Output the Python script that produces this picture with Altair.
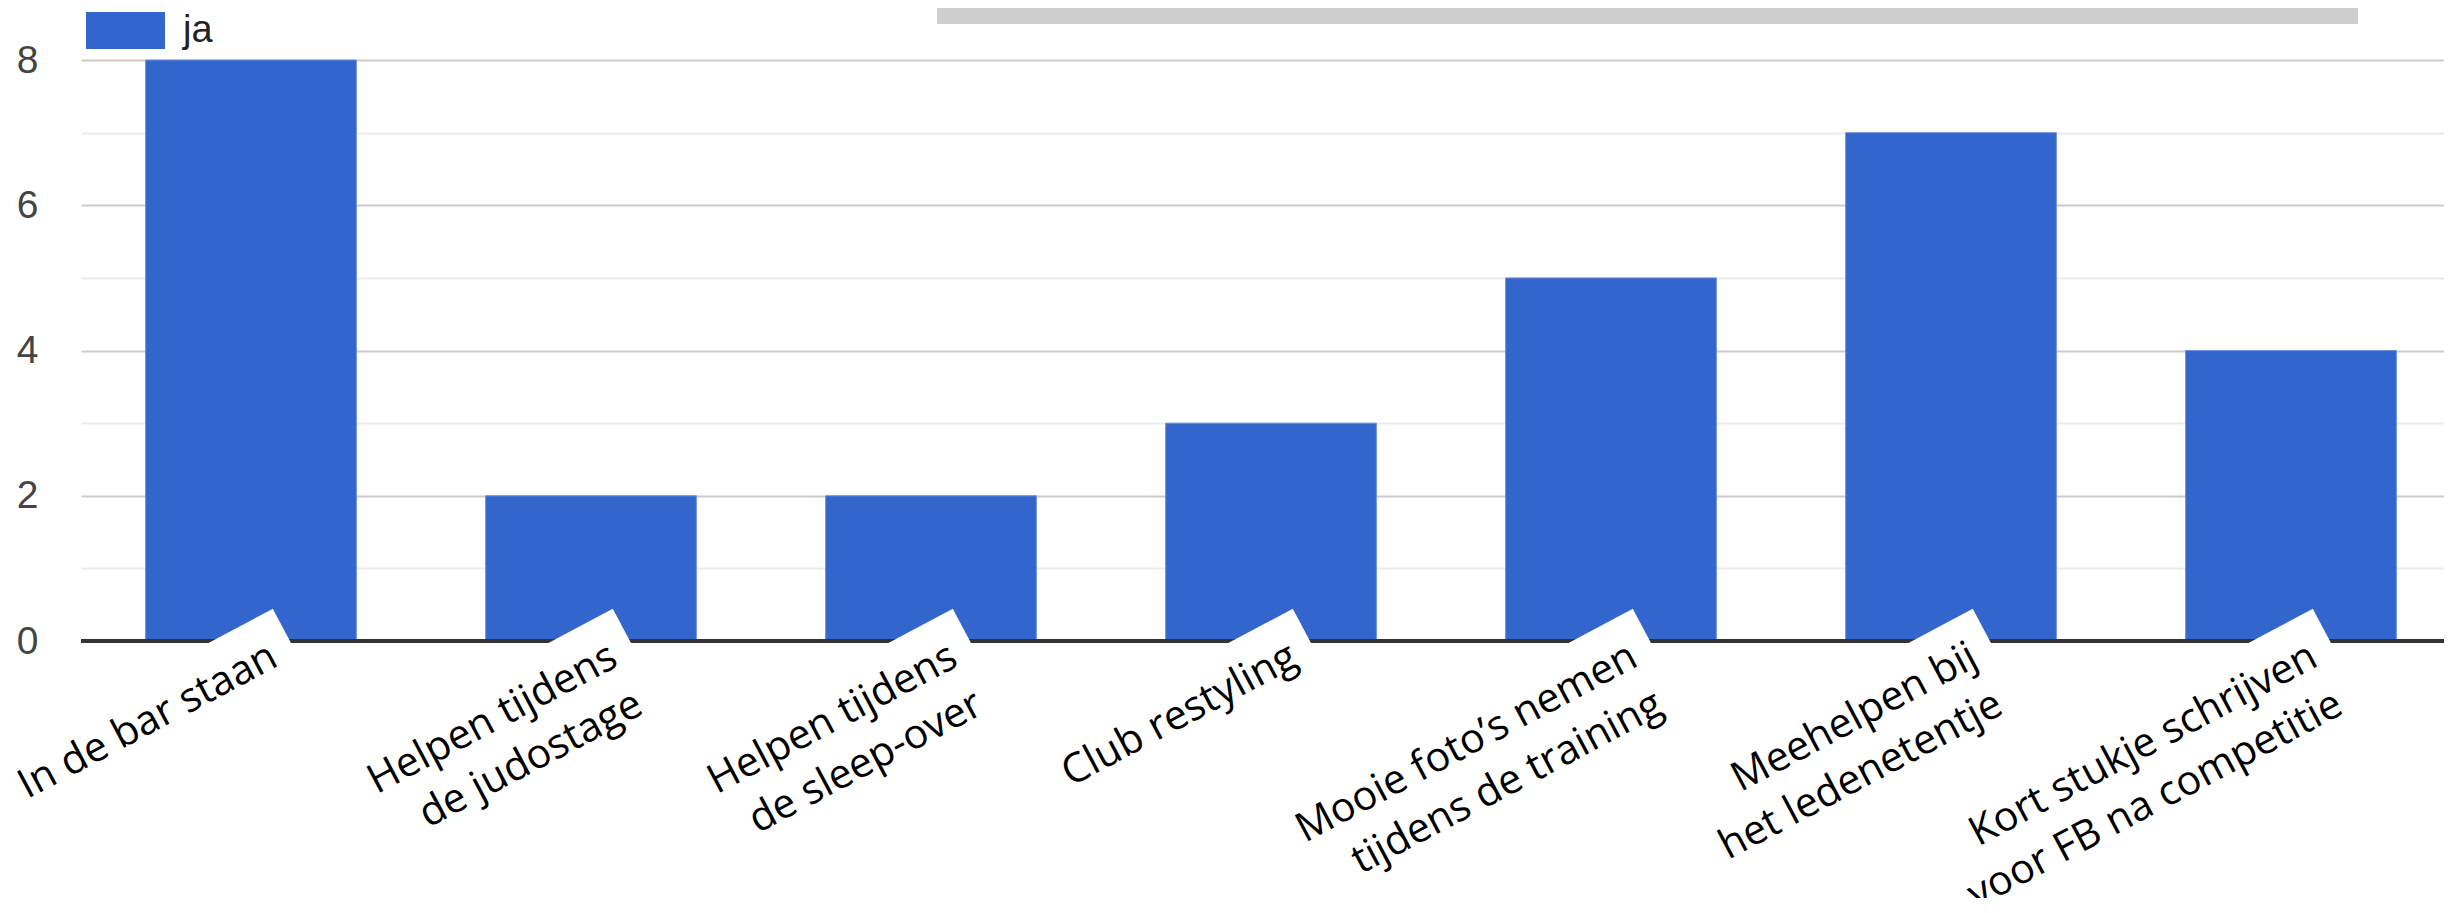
import altair as alt
import pandas as pd

categories = [
    "In de bar staan",
    "Helpen tijdens\nde judostage",
    "Helpen tijdens\nde sleep-over",
    "Club restyling",
    "Mooie foto’s nemen\ntijdens de training",
    "Meehelpen bij\nhet ledenetentje",
    "Kort stukje schrijven\nvoor FB na competitie",
]
values = [8, 2, 2, 3, 5, 7, 4]
series = ["ja"] * len(categories)
y_ticks = [0, 1, 2, 3, 4, 5, 6, 7, 8]

df = pd.DataFrame({"activiteit": categories, "aantal": values, "reeks": series})

BLUE = "#3366cc"

x_enc = alt.X(
    "activiteit:N",
    sort=categories,
    axis=None,
    scale=alt.Scale(range=[0, 2380], paddingInner=0.38, paddingOuter=0.19),
)
y_enc = alt.Y(
    "aantal:Q",
    scale=alt.Scale(domain=[0, 8], nice=False),
    axis=alt.Axis(
        values=y_ticks,
        title=None,
        format="d",
        labelExpr="datum.value % 2 === 0 ? datum.label : ''",
        labelFont="Liberation Sans",
        labelFontSize=39,
        labelColor="#444444",
        labelPadding=43,
        ticks=False,
        domain=False,
        gridColor=alt.condition("datum.value % 2 === 0", alt.value("#cccccc"), alt.value("#ebebeb")),
        gridWidth=2,
    ),
)

bars = alt.Chart(df).mark_bar(stroke="#6f93e0", strokeWidth=1).encode(
    x=x_enc,
    y=y_enc,
    color=alt.Color(
        "reeks:N",
        scale=alt.Scale(domain=["ja"], range=[BLUE]),
        legend=alt.Legend(
            title=None,
            orient="none",
            legendX=5,
            legendY=-69,
            symbolType="M-1,-0.47H1V0.47H-1Z",
            symbolSize=6241,
            symbolStrokeWidth=0,
            symbolOpacity=1,
            labelFont="Liberation Sans",
            labelFontSize=38,
            labelColor="#222222",
            labelOffset=18,
            padding=0,
        ),
    ),
)

baseline = alt.Chart(df).mark_rule(color="#333333", strokeWidth=3).encode(y=alt.datum(0))

boxes = alt.Chart(df).mark_point(
    shape="M 20 -53 L -430 -53 L -430 130 L 20 130 Z",
    size=4,
    filled=True,
    color="white",
    opacity=1,
    strokeWidth=0,
    angle=332,
    xOffset=29,
    yOffset=24,
).encode(x=x_enc, y=alt.datum(0))

labels = alt.Chart(df).mark_text(
    font="Open Sans",
    fontSize=41,
    lineBreak="\n",
    lineHeight=54,
    align="right",
    baseline="alphabetic",
    angle=332,
    xOffset=29,
    yOffset=24,
    color="#000000",
).encode(x=x_enc, y=alt.datum(0), text="activiteit:N")

title_band = alt.Chart(pd.DataFrame({"k": [0]})).mark_rect(color="#d0cfcf").encode(
    x=alt.value(856), x2=alt.value(2277), y=alt.value(-52), y2=alt.value(-36)
)

chart = (
    alt.layer(bars, baseline, boxes, labels, title_band)
    .properties(
        width=2363,
        height=581,
        autosize=alt.AutoSizeParams(type="none"),
        padding={"left": 73, "top": 52, "right": 0, "bottom": 257},
        background="white",
    )
    .configure_view(stroke=None)
)

chart.save("out.html", embed_options={"renderer": "svg", "actions": False})
